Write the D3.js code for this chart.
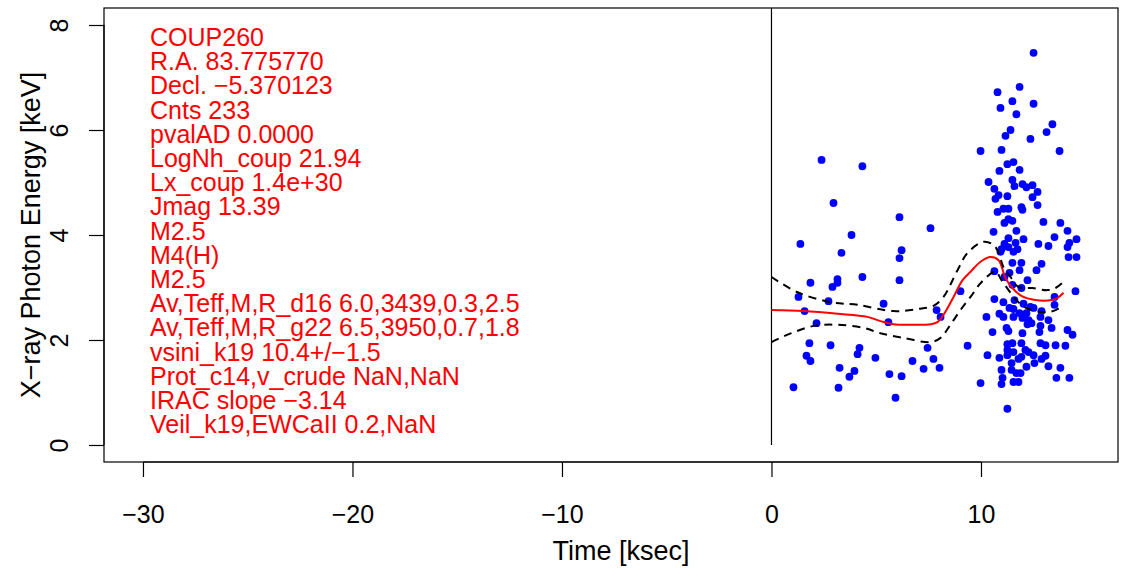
<!DOCTYPE html>
<html><head><meta charset="utf-8">
<script src="https://cdn.jsdelivr.net/npm/d3@7"></script>
<style>body{margin:0;background:#fff}svg{display:block}text{font-family:"Liberation Sans",Arial,sans-serif}</style>
</head><body>
<script>
// ---- data ----
const xTicks = [-30, -20, -10, 0, 10];
const yTicks = [0, 2, 4, 6, 8];
const infoLines = ["COUP260","R.A. 83.775770","Decl. \u22125.370123","Cnts 233","pvalAD 0.0000",
 "LogNh_coup 21.94","Lx_coup 1.4e+30","Jmag 13.39","M2.5","M4(H)","M2.5",
 "Av,Teff,M,R_d16 6.0,3439,0.3,2.5","Av,Teff,M,R_g22 6.5,3950,0.7,1.8",
 "vsini_k19 10.4+/\u22121.5","Prot_c14,v_crude NaN,NaN","IRAC slope \u22123.14","Veil_k19,EWCaII 0.2,NaN"];
const eventTime = [2.39,4.34,2.96,6.11,7.59,3.82,1.38,3.34,6.21,6.11,3.15,3.15,2.91,4.34,6.11,1.86,1.29,2.72,5.35,1.58,9.02,7.88,8.07,2.15,5.58,9.36,1.81,2.82,4.20,4.11,1.67,1.86,4.96,7.45,7.73,6.73,7.26,8.02,3.25,3.96,3.72,5.63,6.21,1.05,3.20,5.92,
 12.51,11.84,10.79,11.50,10.93,12.51,11.69,13.41,13.13,11.41,11.17,12.36,9.98,10.98,13.75,
 11.26,11.55,10.88,11.84,10.36,11.50,11.60,11.98,12.46,12.17,10.64,12.70,10.84,11.26,10.69,12.46,12.70,11.93,11.98,11.07,11.31,10.79,11.31,11.50,11.12,12.98,13.79,10.60,11.69,14.13,13.51,14.56,11.31,12.03,11.65,12.74,13.22,14.22,11.12,14.13,10.98,11.31,11.74,
 14.18,14.56,11.55,10.93,11.50,11.93,12.89,12.65,11.84,10.64,11.36,11.12,12.22,11.50,11.93,10.64,11.07,14.51,13.51,13.51,11.60,11.55,12.03,12.36,11.36,12.51,11.84,12.17,12.89,10.26,10.88,11.07,11.55,11.98,12.27,12.41,13.22,12.22,12.84,13.37,14.13,14.37,10.55,11.22,11.31,11.98,12.79,12.84,
 10.31,11.26,11.50,11.93,12.84,13.08,13.56,14.03,11.26,11.55,11.26,12.12,12.27,12.51,11.93,11.79,10.88,13.08,12.89,12.55,11.46,13.22,12.17,13.79,10.98,11.46,11.69,11.89,11.03,13.60,14.22,11.55,11.79,10.98,9.98,11.26];
const eventEnergy = [5.43,5.31,4.61,4.34,4.13,4.00,3.83,3.66,3.71,3.56,3.16,3.09,3.01,3.20,3.14,3.09,2.82,2.74,2.69,2.55,2.93,2.57,2.44,2.32,2.34,1.89,1.94,1.90,1.85,1.73,1.70,1.60,1.66,1.85,1.64,1.60,1.45,1.47,1.47,1.41,1.30,1.35,1.31,1.10,1.09,0.90,
 7.47,6.82,6.72,6.55,6.42,6.50,6.30,6.11,5.96,6.00,5.89,5.83,5.60,5.62,5.60,
 5.35,5.39,5.22,5.24,5.01,5.05,4.93,4.97,4.95,4.91,4.88,4.82,4.76,4.74,4.69,4.72,4.57,4.53,4.48,4.50,4.50,4.44,4.30,4.27,4.23,4.25,4.23,4.06,4.08,4.08,3.96,3.92,3.94,3.92,3.85,3.83,3.79,3.85,3.83,3.77,3.73,3.77,3.73,
 3.58,3.58,3.68,3.68,3.47,3.47,3.45,3.33,3.33,3.31,3.28,3.20,3.14,3.05,2.99,2.78,2.72,2.93,2.82,2.67,2.76,2.59,2.69,2.63,2.61,2.61,2.51,2.51,2.55,2.44,2.50,2.44,2.44,2.42,2.38,2.32,2.38,2.30,2.27,2.23,2.19,2.10,2.15,2.23,2.17,2.13,2.15,2.44,
 1.71,1.92,1.94,1.94,1.94,1.90,1.90,1.89,1.71,1.77,1.81,1.81,1.77,1.71,1.68,1.64,1.66,1.70,1.64,1.56,1.56,1.50,1.49,1.47,1.43,1.43,1.37,1.37,1.28,1.28,1.28,1.20,1.20,1.16,1.18,0.69];
const medTime   = [0,1.53,3.15,4.58,5.20,5.82,6.78,7.59,7.92,8.21,8.69,9.12,9.50,9.98,10.45,10.84,11.17,11.46,11.93,12.60,13.37,13.65,13.94];
const medEnergy = [2.57,2.55,2.50,2.44,2.36,2.30,2.29,2.30,2.34,2.48,2.82,3.14,3.30,3.49,3.58,3.52,3.18,3.01,2.84,2.76,2.76,2.80,2.90];
const upTime    = [0,1.24,2.82,4.11,5.82,6.97,7.73,8.21,8.88,9.36,10.12,10.60,10.84,11.07,11.41,11.79,12.46,13.17,13.56,13.89];
const upEnergy  = [3.20,2.91,2.72,2.67,2.55,2.59,2.65,2.82,3.33,3.66,3.87,3.81,3.66,3.39,3.20,3.01,2.99,2.95,2.99,3.09];
const loTime    = [0,0.95,2.05,3.15,4.39,5.20,6.30,7.59,8.07,8.54,9.02,9.50,10.02,10.69,10.98,11.41,11.79,12.27,13.08,13.56,13.94];
const loEnergy  = [1.96,2.13,2.27,2.29,2.23,2.13,2.04,1.96,2.04,2.29,2.57,2.82,3.10,3.30,3.14,2.90,2.72,2.59,2.53,2.57,2.67];

// ---- layout ----
const W = 1133, H = 569;
const L = 104, R = 1118, T = 8, B = 462;
const FS = 25, FT = 27;
const svg = d3.select("body").append("svg").attr("width", W).attr("height", H);
const x = d3.scaleLinear().domain([-31.86, 16.54]).range([L, R]);
const y = d3.scaleLinear().domain([-0.324, 8.324]).range([B, T]);

const minus = v => (v < 0 ? "\u2212" + Math.abs(v) : String(v));

// x axis
const xa = svg.append("g").attr("transform", `translate(0,${B})`)
  .call(d3.axisBottom(x).tickValues(xTicks).tickSize(15).tickPadding(28).tickFormat(minus));
xa.select(".domain").attr("d", `M${x(xTicks[0])},0H${x(xTicks[xTicks.length-1])}`).attr("stroke","#000").attr("stroke-width",1.2);
xa.selectAll(".tick line").attr("stroke","#000").attr("stroke-width",1.2);
xa.selectAll(".tick text").attr("font-size", FS).attr("font-family","Liberation Sans").attr("fill","#000");

// y axis
const ya = svg.append("g").attr("transform", `translate(${L},0)`)
  .call(d3.axisLeft(y).tickValues(yTicks).tickSize(15).tickFormat(minus));
ya.select(".domain").attr("d", `M0,${y(yTicks[0])}V${y(yTicks[yTicks.length-1])}`).attr("stroke","#000").attr("stroke-width",1.2);
ya.selectAll(".tick line").attr("stroke","#000").attr("stroke-width",1.2);
ya.selectAll(".tick text").attr("font-size", FS).attr("font-family","Liberation Sans").attr("fill","#000")
  .attr("x", null).attr("dy", null).attr("text-anchor","middle")
  .attr("transform", "translate(-36,0) rotate(-90)");

// box
svg.append("rect").attr("x", L).attr("y", T).attr("width", R - L).attr("height", B - T)
  .attr("fill","none").attr("stroke","#000").attr("stroke-width",1.2);

// titles
svg.append("text").attr("x", (L + R) / 2 + 10).attr("y", 560).attr("text-anchor","middle")
  .attr("font-size", FT).text("Time [ksec]");
svg.append("text").attr("transform", `translate(40,${(T + B) / 2}) rotate(-90)`).attr("text-anchor","middle")
  .attr("font-size", FT).text("X\u2212ray Photon Energy [keV]");

// vertical line at t=0
svg.append("line").attr("x1", x(0)).attr("x2", x(0)).attr("y1", y(0)).attr("y2", T)
  .attr("stroke","#000").attr("stroke-width",1.2);

// info text
const info = svg.append("g").attr("font-size", FS).attr("fill","#ff0000");
info.selectAll("text").data(infoLines).join("text")
  .attr("x", 150).attr("y", (d, i) => 46 + i * 24.2).text(d => d);

// points
const pts = eventTime.map((t, i) => [t, eventEnergy[i]]);
svg.append("g").selectAll("circle").data(pts).join("circle")
  .attr("cx", d => x(d[0])).attr("cy", d => y(d[1])).attr("r", 3.9).attr("fill","#0000ff");

// curves
const line = d3.line().x(d => x(d[0])).y(d => y(d[1])).curve(d3.curveCatmullRom.alpha(0.5));
svg.append("path").attr("d", line(medTime.map((t,i)=>[t, medEnergy[i]])))
  .attr("fill","none").attr("stroke","#ff0000").attr("stroke-width",2);
[[upTime, upEnergy],[loTime, loEnergy]].forEach(([tt, ee]) => {
  svg.append("path").attr("d", line(tt.map((t,i)=>[t, ee[i]])))
    .attr("fill","none").attr("stroke","#000").attr("stroke-width",2).attr("stroke-dasharray","8,6");
});
</script>
</body></html>
